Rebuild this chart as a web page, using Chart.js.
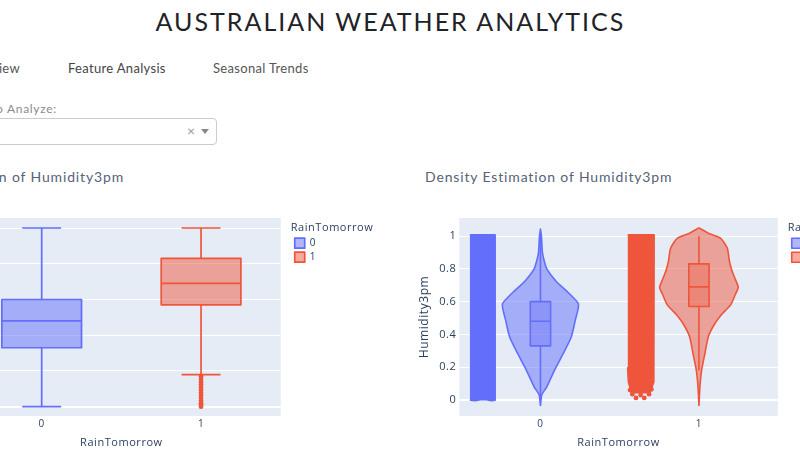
<!DOCTYPE html>
<html>
<head>
<meta charset="utf-8">
<title>Australian Weather Analytics</title>
<script src="https://cdn.jsdelivr.net/npm/chart.js@4"></script>
<style>
	html, body { margin: 0; padding: 0; background: #fff; width: 800px; height: 460px; overflow: hidden; }
	body { position: relative; font-family: Lato, "Open Sans", sans-serif; }
	.txt { position: absolute; white-space: nowrap; line-height: 1; }
	#titulo { left: 0; width: 781px; top: 9px; text-align: center; font-size: 25px; letter-spacing: 2px; color: #1f2328; }
	.tab { top: 62px; font-size: 13px; letter-spacing: 0.32px; color: #555; }
	#etiqueta { right: 743px; top: 103px; font-size: 12px; letter-spacing: 0.7px; color: #8a8a8a; }
	#selector { position: absolute; left: -40px; width: 255px; top: 118px; height: 25px; border: 1px solid #ccc; border-radius: 4px; }
	#cerrar { left: 187px; top: 124px; font-size: 14px; color: #999; }
	#flecha { position: absolute; left: 201px; top: 129px; border-left: 4px solid transparent; border-right: 4px solid transparent; border-top: 5px solid #888; }
	.subtitulo { top: 170px; font-size: 14px; letter-spacing: 0.85px; color: #566277; }
	canvas { position: absolute; }
	#cajas { left: -100px; top: 200px; }
	#densidad { left: 400px; top: 200px; }
</style>
</head>
<body>

<div id="titulo" class="txt">AUSTRALIAN WEATHER ANALYTICS</div>
<div class="txt tab" style="right:780px">Overview</div>
<div class="txt tab" style="left:68px;color:#444">Feature Analysis</div>
<div class="txt tab" style="left:213px">Seasonal Trends</div>
<div id="etiqueta" class="txt">Select Feature to Analyze:</div>
<div id="selector"></div>
<div id="cerrar" class="txt">×</div>
<div id="flecha"></div>
<div class="txt subtitulo" style="right:676px">Distribution of Humidity3pm</div>
<div class="txt subtitulo" style="left:425px">Density Estimation of Humidity3pm</div>

<canvas id="cajas" width="500" height="260" style="width:500px;height:260px"></canvas>
<canvas id="densidad" width="500" height="260" style="width:500px;height:260px"></canvas>

<script>
// Datos
const categorias = [0, 1];
const ticksHumedad = [0, 0.2, 0.4, 0.6, 0.8, 1];

// Cajas [min, q1, mediana, q3, max]
const cajaLluviaNo = [0, 0.33, 0.48, 0.60, 1];
const cajaLluviaSi = [0.18, 0.57, 0.69, 0.83, 1];
const atipicosSi = [0.17, 0.155, 0.14, 0.125, 0.11, 0.095, 0.08, 0.065, 0.05, 0.035, 0.02, 0.01, 0];

// Violines: niveles de humedad y semi ancho de la densidad
const nivelesNo = [-0.037, 0.03, 0.08, 0.183, 0.285, 0.386, 0.488, 0.585, 0.66, 0.72, 0.8, 0.863, 0.904, 1, 1.042];
const anchoNo = [0, 0.008, 0.04, 0.09, 0.145, 0.195, 0.22, 0.24, 0.17, 0.103, 0.04, 0.02, 0.012, 0.006, 0];
const nivelesSi = [-0.037, 0.08, 0.183, 0.285, 0.386, 0.457, 0.518, 0.58, 0.64, 0.687, 0.742, 0.783, 0.843, 0.925, 0.986, 1.016, 1.05];
const anchoSi = [0, 0.006, 0.017, 0.038, 0.059, 0.095, 0.14, 0.2, 0.228, 0.248, 0.227, 0.21, 0.193, 0.179, 0.137, 0.063, 0];

// Contorno de la nube de puntos de cada categoria
const tiraNoX = [-0.445, -0.287, -0.287, -0.31, -0.34, -0.38, -0.41, -0.445];
const tiraNoY = [1.006, 1.006, 0, -0.004, 0.002, 0.002, -0.004, 0];
const tiraSiX = [0.551, 0.716, 0.716, 0.712, 0.69, 0.575, 0.556, 0.551];
const tiraSiY = [1.006, 1.006, 0.2, 0.11, 0.045, 0.045, 0.11, 0.2];
const sueltosSiX = [0.603, 0.655, 0.565, 0.632, 0.7, 0.58, 0.685];
const sueltosSiY = [0.012, 0.012, 0.06, 0.03, 0.065, 0.035, 0.035];

const AZUL = '#636EFA';
const ROJO = '#EF553B';
const AZUL_A = 'rgba(99,110,250,0.5)';
const ROJO_A = 'rgba(239,85,59,0.5)';
const TEXTO = '#2a3f5f';
const FUENTE = '"Open Sans", sans-serif';

// Rectangulo de una caja
const rectangulo = function(x, caja, medio){
	return [
		{x: x - medio, y: caja[1]}, {x: x + medio, y: caja[1]},
		{x: x + medio, y: caja[3]}, {x: x - medio, y: caja[3]},
		{x: x - medio, y: caja[1]}
	];
};

// Bigotes y mediana, separados por huecos
const lineasCaja = function(x, caja, medio, tope){
	const hueco = {x: NaN, y: NaN};
	let puntos = [
		{x: x - medio, y: caja[2]}, {x: x + medio, y: caja[2]}, hueco,
		{x: x, y: caja[0]}, {x: x, y: caja[1]}, hueco,
		{x: x, y: caja[3]}, {x: x, y: caja[4]}
	];
	if(tope > 0){
		puntos = puntos.concat([
			hueco, {x: x - tope, y: caja[0]}, {x: x + tope, y: caja[0]},
			hueco, {x: x - tope, y: caja[4]}, {x: x + tope, y: caja[4]}
		]);
	}
	return puntos;
};

// Contorno simetrico del violin
const contornoViolin = function(x, niveles, anchos){
	let puntos = niveles.map((n, i) => ({x: x + anchos[i], y: n}));
	let vuelta = niveles.map((n, i) => ({x: x - anchos[i], y: n})).reverse();
	return puntos.concat(vuelta);
};

const unir = (xs, ys) => xs.map((x, i) => ({x: x, y: ys[i]}));

const relleno = function(label, data, borde, fondo, grosor, curva){
	return {label: label, data: data, showLine: true, fill: 'shape', borderColor: borde, backgroundColor: fondo,
		borderWidth: grosor, pointRadius: 0, tension: curva || 0, borderJoinStyle: 'round'};
};
const linea = function(label, data, borde, grosor){
	return {label: label, data: data, showLine: true, fill: false, borderColor: borde, backgroundColor: 'transparent',
		borderWidth: grosor, pointRadius: 0, tension: 0, spanGaps: false};
};
const puntos = function(label, data, color, radio){
	return {label: label, data: data, showLine: false, borderColor: color, backgroundColor: color,
		pointRadius: radio, pointBorderWidth: 0};
};

// Fondo del area del grafico, espaciado del texto y caja de la leyenda
const fondoPlotly = {
	id: 'fondoPlotly',
	beforeLayout(chart){ chart.ctx.letterSpacing = '0.55px'; },
	afterLayout(chart){
		chart.legend.left = chart.chartArea.right + 10;
		chart.legend.right = chart.width;
		chart.legend.width = chart.legend.right - chart.legend.left;
	},
	beforeDraw(chart){
		const a = chart.chartArea;
		chart.ctx.save();
		chart.ctx.fillStyle = '#E5ECF6';
		chart.ctx.fillRect(a.left, a.top, a.right - a.left, a.bottom - a.top);
		chart.ctx.restore();
	}
};

const opciones = function(xMin, xMax, yMin, yMax, anchoEjeY, rellenoDerecha){
	return {
		responsive: false,
		animation: false,
		layout: {padding: {top: 18, right: rellenoDerecha, left: 0, bottom: 0}},
		plugins: {
			tooltip: {enabled: false},
			legend: {
				display: true,
				position: 'right',
				align: 'start',
				title: {display: true, position: 'start', text: 'RainTomorrow', color: TEXTO, font: {family: FUENTE, size: 11}, padding: {top: 4.5, bottom: -1.5}},
				labels: {
					color: TEXTO, font: {family: FUENTE, size: 10}, boxWidth: 10, boxHeight: 10, padding: 4,
					filter: (item) => item.text === '0' || item.text === '1'
				}
			}
		},
		scales: {
			x: {
				type: 'linear', min: xMin, max: xMax,
				afterBuildTicks: (eje) => { eje.ticks = categorias.map(v => ({value: v})); },
				afterFit: (eje) => { eje.height = 44; },
				grid: {display: false, drawTicks: false},
				border: {display: false},
				ticks: {color: TEXTO, font: {family: FUENTE, size: 10}, padding: 2, autoSkip: false, maxRotation: 0, callback: (v) => String(v)},
				title: {display: true, text: 'RainTomorrow', color: TEXTO, font: {family: FUENTE, size: 11}, padding: {top: 6, bottom: 11}}
			},
			y: {
				min: yMin, max: yMax,
				afterBuildTicks: (eje) => { eje.ticks = ticksHumedad.map(v => ({value: v})); },
				afterFit: (eje) => { eje.width = anchoEjeY; },
				grid: {color: '#fff', lineWidth: (c) => c.tick && c.tick.value === 0 ? 2 : 1, drawTicks: false},
				border: {display: false},
				ticks: {color: TEXTO, font: {family: FUENTE, size: 11}, padding: 3, autoSkip: false, callback: (v) => String(v)},
				title: {display: true, text: 'Humidity3pm', color: TEXTO, font: {family: FUENTE, size: 12}, padding: {top: 17, bottom: 0}}
			}
		}
	};
};

// Grafico de cajas
new Chart(document.getElementById('cajas').getContext('2d'), {
	type: 'scatter',
	plugins: [fondoPlotly],
	data: {datasets: [
		puntos('atipicos', atipicosSi.map(v => ({x: categorias[1], y: v})), ROJO, 2.4),
		linea('lineas no', lineasCaja(categorias[0], cajaLluviaNo, 0.25, 0.122), AZUL, 1.7),
		linea('lineas si', lineasCaja(categorias[1], cajaLluviaSi, 0.25, 0.122), ROJO, 1.7),
		relleno('0', rectangulo(categorias[0], cajaLluviaNo, 0.25), AZUL, AZUL_A, 1.7),
		relleno('1', rectangulo(categorias[1], cajaLluviaSi, 0.25), ROJO, ROJO_A, 1.7)
	]},
	options: opciones(-0.5, 1.5, -0.052, 1.056, 62, 84)
});

// Grafico de densidad
new Chart(document.getElementById('densidad').getContext('2d'), {
	type: 'scatter',
	plugins: [fondoPlotly],
	data: {datasets: [
		linea('lineas violin no', lineasCaja(categorias[0], cajaLluviaNo, 0.064, 0), AZUL, 1.6),
		linea('lineas violin si', lineasCaja(categorias[1], cajaLluviaSi, 0.064, 0), ROJO, 1.6),
		relleno('caja violin no', rectangulo(categorias[0], cajaLluviaNo, 0.064), AZUL, 'rgba(99,110,250,0.35)', 1.6),
		relleno('caja violin si', rectangulo(categorias[1], cajaLluviaSi, 0.064), ROJO, 'rgba(239,85,59,0.35)', 1.6),
		relleno('0', contornoViolin(categorias[0], nivelesNo, anchoNo), AZUL, AZUL_A, 1.6, 0.2),
		relleno('1', contornoViolin(categorias[1], nivelesSi, anchoSi), ROJO, ROJO_A, 1.6, 0.2),
		puntos('sueltos si', unir(sueltosSiX, sueltosSiY), ROJO, 2.4),
		relleno('tira no', unir(tiraNoX, tiraNoY), AZUL, AZUL, 2),
		relleno('tira si', unir(tiraSiX, tiraSiY), ROJO, ROJO, 2)
	]},
	options: opciones(-0.512, 1.497, -0.098, 1.11, 59.3, 87)
});
</script>
</body>
</html>
